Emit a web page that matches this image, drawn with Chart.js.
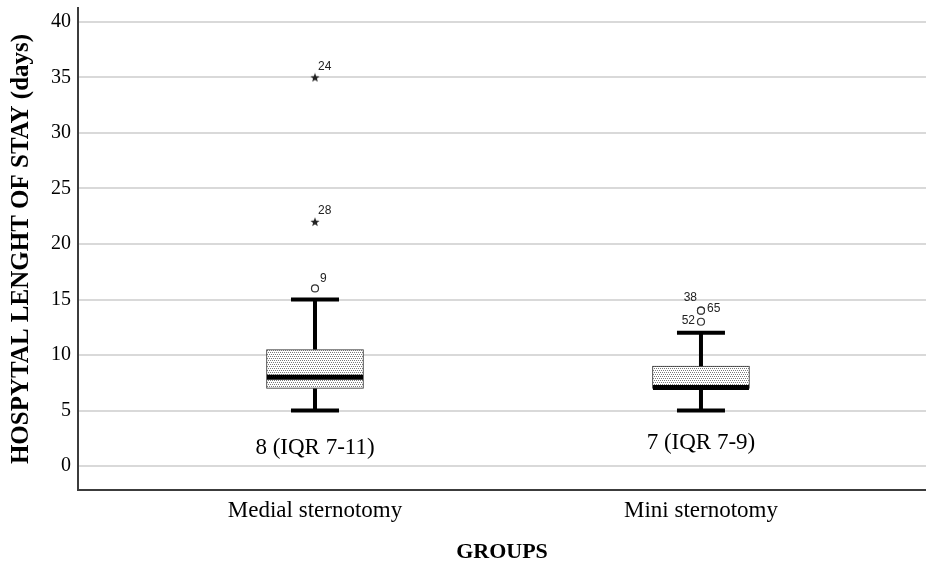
<!DOCTYPE html>
<html>
<head>
<meta charset="utf-8">
<title>Hospital length of stay</title>
<script src="https://cdn.jsdelivr.net/npm/chart.js@4.4.0/dist/chart.umd.min.js"></script>
<style>
    html, body { margin: 0; padding: 0; background: #fff; }
</style>
</head>
<body>
<canvas id="stayChart" width="926" height="563"></canvas>
<script>
// 数据
const groups = ['Medial sternotomy', 'Mini sternotomy'];
const q1 = [7, 7];
const median = [8, 7];
const q3 = [10.5, 9];
const whiskerLow = [5, 5];
const whiskerHigh = [15, 12];
const summaryText = ['8 (IQR 7-11)', '7 (IQR 7-9)'];

// 离群值 (圆圈)
const mildGroup = [1, 2, 2, 2];
const mildValue = [16, 14, 14, 13];
const mildCase = ['9', '38', '65', '52'];

// 极端值 (星号)
const extremeGroup = [1, 1];
const extremeValue = [22, 35];
const extremeCase = ['28', '24'];

const yTicks = [0, 5, 10, 15, 20, 25, 30, 35, 40];

const SERIF = '"Liberation Serif", "Times New Roman", serif';
const SANS = '"Liberation Sans", Arial, sans-serif';

// 点状填充
function makeStipple() {
    const c = document.createElement('canvas');
    c.width = 4;
    c.height = 4;
    const g = c.getContext('2d');
    g.fillStyle = '#ffffff';
    g.fillRect(0, 0, 4, 4);
    g.fillStyle = '#7a7a7a';
    g.fillRect(0, 0, 1, 1);
    g.fillRect(2, 0, 1, 1);
    g.fillRect(1, 2, 1, 1);
    g.fillRect(3, 2, 1, 1);
    return g.createPattern(c, 'repeat');
}

// 星形标记
function makeStar() {
    const c = document.createElement('canvas');
    c.width = 10;
    c.height = 10;
    const g = c.getContext('2d');
    g.fillStyle = '#222';
    g.beginPath();
    for (let i = 0; i < 10; i++) {
        const r = i % 2 === 0 ? 4.8 : 2.0;
        const a = -Math.PI / 2 + i * Math.PI / 5;
        const px = 5 + r * Math.cos(a);
        const py = 5.4 + r * Math.sin(a);
        if (i === 0) g.moveTo(px, py); else g.lineTo(px, py);
    }
    g.closePath();
    g.fill();
    return c;
}

// 须线、中位数、标签
const boxExtras = {
    id: 'boxExtras',
    afterDatasetsDraw(chart) {
        const ctx = chart.ctx;
        const xs = chart.scales.x;
        const ys = chart.scales.y;
        const summaryDy = [37, 32];
        ctx.save();
        ctx.strokeStyle = '#000';
        ctx.lineCap = 'butt';
        groups.forEach((g, i) => {
            const cx = xs.getPixelForValue(i + 1);
            const yHi = ys.getPixelForValue(whiskerHigh[i]);
            const yLo = ys.getPixelForValue(whiskerLow[i]);

            ctx.lineWidth = 4;
            ctx.beginPath();
            ctx.moveTo(cx, yHi);
            ctx.lineTo(cx, ys.getPixelForValue(q3[i]));
            ctx.moveTo(cx, ys.getPixelForValue(q1[i]));
            ctx.lineTo(cx, yLo);
            ctx.stroke();

            ctx.beginPath();
            ctx.moveTo(cx - 24, yHi);
            ctx.lineTo(cx + 24, yHi);
            ctx.moveTo(cx - 24, yLo);
            ctx.lineTo(cx + 24, yLo);
            ctx.stroke();

            ctx.lineWidth = 5;
            const yMed = ys.getPixelForValue(median[i]) - (median[i] === q1[i] ? 1 : 0);
            ctx.beginPath();
            ctx.moveTo(cx - 48, yMed);
            ctx.lineTo(cx + 48, yMed);
            ctx.stroke();

            ctx.fillStyle = '#000';
            ctx.font = '23px ' + SERIF;
            ctx.textAlign = 'center';
            ctx.textBaseline = 'middle';
            ctx.fillText(summaryText[i], cx, yLo + summaryDy[i]);
        });

        // 个案编号
        const labelPos = {
            '9': [5, -10, 'left'],
            '24': [3, -11, 'left'],
            '28': [3, -11, 'left'],
            '38': [-4, -13, 'right'],
            '65': [6, -2, 'left'],
            '52': [-6, -1, 'right']
        };
        ctx.font = '12px ' + SANS;
        ctx.fillStyle = '#222';
        ctx.textBaseline = 'middle';
        const drawIds = (metaIndex, ids) => {
            chart.getDatasetMeta(metaIndex).data.forEach((pt, j) => {
                const p = labelPos[ids[j]] || [5, -8, 'left'];
                ctx.textAlign = p[2];
                ctx.fillText(ids[j], pt.x + p[0], pt.y + p[1]);
            });
        };
        drawIds(1, mildCase);
        drawIds(2, extremeCase);
        ctx.restore();
    }
};

function initializeChart() {
    const ctx = document.getElementById('stayChart').getContext('2d');
    new Chart(ctx, {
        type: 'bar',
        data: {
            datasets: [
                {
                    type: 'bar',
                    data: groups.map((g, i) => ({ x: i + 1, y: [q1[i], q3[i]] })),
                    backgroundColor: makeStipple(),
                    borderColor: '#333',
                    borderWidth: 1,
                    borderSkipped: false,
                    barThickness: 97
                },
                {
                    type: 'scatter',
                    data: mildValue.map((v, i) => ({ x: mildGroup[i], y: v })),
                    pointStyle: 'circle',
                    pointRadius: 3.5,
                    pointBackgroundColor: '#fff',
                    pointBorderColor: '#333',
                    pointBorderWidth: 1.2
                },
                {
                    type: 'scatter',
                    data: extremeValue.map((v, i) => ({ x: extremeGroup[i], y: v })),
                    pointStyle: makeStar(),
                    pointRadius: 5
                }
            ]
        },
        options: {
            responsive: false,
            animation: false,
            layout: {
                autoPadding: false,
                padding: { top: 8, right: 0, bottom: 0, left: 0 }
            },
            plugins: {
                legend: { display: false },
                tooltip: { enabled: false }
            },
            scales: {
                x: {
                    type: 'linear',
                    offset: false,
                    min: 0.386,
                    max: 2.583,
                    afterFit: (scale) => {
                        scale.height = 73;
                        scale.paddingLeft = 0;
                        scale.paddingRight = 0;
                    },
                    afterBuildTicks: (scale) => {
                        scale.ticks = groups.map((g, i) => ({ value: i + 1 }));
                    },
                    grid: { display: false, drawTicks: false },
                    border: { display: true, color: '#3c3c3c', width: 2 },
                    ticks: {
                        padding: 7,
                        color: '#000',
                        font: { family: SERIF, size: 23 },
                        callback: (v) => groups[v - 1] || ''
                    },
                    title: {
                        display: true,
                        text: 'GROUPS',
                        color: '#000',
                        font: { family: SERIF, size: 22, weight: 'bold', lineHeight: 1 },
                        padding: { top: 0, bottom: 0 }
                    }
                },
                y: {
                    min: -2.15,
                    max: 41.25,
                    afterFit: (scale) => {
                        scale.width = 78;
                        scale.paddingTop = 0;
                        scale.paddingBottom = 0;
                    },
                    afterBuildTicks: (scale) => {
                        scale.ticks = yTicks.map(v => ({ value: v }));
                    },
                    grid: { color: '#d9d9d9', lineWidth: 2, drawTicks: false },
                    border: { display: true, color: '#3c3c3c', width: 2 },
                    ticks: {
                        padding: 7,
                        color: '#000',
                        font: { family: SERIF, size: 20 }
                    },
                    title: {
                        display: true,
                        text: 'HOSPYTAL LENGHT OF STAY (days)',
                        color: '#000',
                        font: { family: SERIF, size: 25, weight: 'bold', lineHeight: 1.2 },
                        padding: { top: 7, bottom: 0 }
                    }
                }
            }
        },
        plugins: [boxExtras]
    });
}

document.addEventListener('DOMContentLoaded', function() {
    initializeChart();
});
</script>
</body>
</html>
